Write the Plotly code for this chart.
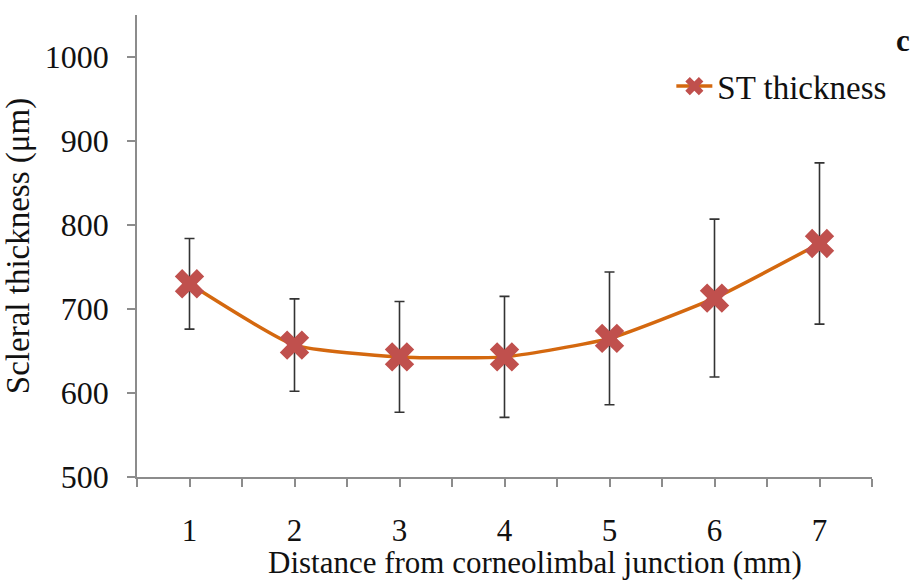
import plotly.graph_objects as go

distance = [1, 2, 3, 4, 5, 6, 7]
thickness = [730, 657, 643, 643, 665, 713, 778]
sd = [54, 55, 66, 72, 79, 94, 96]
y_ticks = [500, 600, 700, 800, 900, 1000]

x_tickvals = [v / 2 for v in range(1, 16)]
x_ticktext = [str(int(v)) if v == int(v) else "" for v in x_tickvals]

fig = go.Figure()
fig.add_trace(go.Scatter(
    x=distance, y=thickness, name="ST thickness",
    mode="lines+markers",
    line=dict(color="#D4680F", width=3.5, shape="spline", smoothing=0.5),
    marker=dict(symbol="x", size=26, color="#C0504D", line=dict(width=0)),
    error_y=dict(type="data", array=sd, visible=True, color="#333333", thickness=1.6, width=5),
))

font_family = "Liberation Serif"
fig.update_layout(
    width=916, height=583,
    margin=dict(l=137, r=44, t=15, b=106),
    paper_bgcolor="white", plot_bgcolor="white",
    font=dict(family=font_family, color="#111111", size=33),
    showlegend=True,
    legend=dict(x=0.727, y=0.846, xanchor="left", yanchor="middle",
                font=dict(size=33, family=font_family), bgcolor="rgba(0,0,0,0)",
                itemwidth=36),
    xaxis=dict(range=[0.5, 7.5], tickvals=x_tickvals, ticktext=x_ticktext,
               showline=True, linecolor="#8c8c8c", linewidth=1.5,
               ticks="outside", ticklen=8, tickcolor="#8c8c8c", tickwidth=1.5,
               showgrid=False, zeroline=False, ticklabelstandoff=17,
               tickfont=dict(size=31), automargin=False),
    yaxis=dict(range=[500, 1050], tickvals=y_ticks,
               showline=True, linecolor="#8c8c8c", linewidth=1.5,
               ticks="outside", ticklen=8, tickcolor="#8c8c8c", tickwidth=1.5,
               showgrid=False, zeroline=False, ticklabelstandoff=12,
               tickfont=dict(size=32), automargin=False,
               title=dict(text="Scleral thickness (μm)", font=dict(size=33), standoff=10)),
)
fig.add_annotation(text="Distance from corneolimbal junction (mm)", xref="paper", yref="paper",
                   x=0.5415, y=-0.184, showarrow=False,
                   font=dict(size=31, family=font_family, color="#111111"),
                   xanchor="center", yanchor="middle")
fig.add_annotation(text="<b>c</b>", xref="paper", yref="paper", x=1.042, y=0.945,
                   showarrow=False, font=dict(size=31, family=font_family, color="#111111"),
                   xanchor="center", yanchor="middle")
fig.write_html("out.html")
